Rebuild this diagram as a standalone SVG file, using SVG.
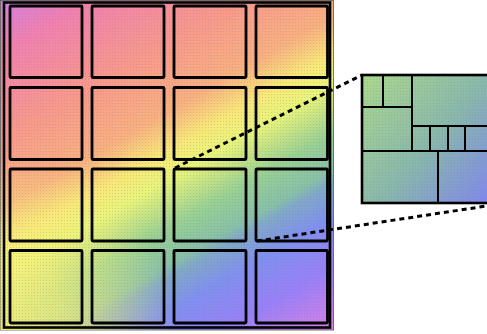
<svg xmlns="http://www.w3.org/2000/svg" width="487" height="334" viewBox="0 0 487 334">
  <defs>
    <linearGradient id="g" gradientUnits="userSpaceOnUse" x1="0" y1="0" x2="226" y2="391">
      <stop offset="0" stop-color="#d480e4"/>
      <stop offset="0.10" stop-color="#f080b0"/>
      <stop offset="0.265" stop-color="#f8988c"/>
      <stop offset="0.40" stop-color="#f8b080"/>
      <stop offset="0.475" stop-color="#f8e878"/>
      <stop offset="0.53" stop-color="#e8f47a"/>
      <stop offset="0.57" stop-color="#c8e484"/>
      <stop offset="0.625" stop-color="#98d094"/>
      <stop offset="0.695" stop-color="#88c0a8"/>
      <stop offset="0.72" stop-color="#80a8c8"/>
      <stop offset="0.785" stop-color="#8090f0"/>
      <stop offset="0.88" stop-color="#9880f8"/>
      <stop offset="1" stop-color="#d880e8"/>
    </linearGradient>
    <radialGradient id="y" gradientUnits="userSpaceOnUse" cx="0" cy="334" r="175">
      <stop offset="0" stop-color="#f8f078" stop-opacity="0.9"/>
      <stop offset="0.4" stop-color="#f8f078" stop-opacity="0.7"/>
      <stop offset="1" stop-color="#f8f078" stop-opacity="0"/>
    </radialGradient>
    <linearGradient id="gi" gradientUnits="userSpaceOnUse" x1="362" y1="75" x2="506" y2="203">
      <stop offset="0" stop-color="#acd88c"/>
      <stop offset="0.5" stop-color="#88b8ac"/>
      <stop offset="1" stop-color="#7f7ff8"/>
    </linearGradient>
    <pattern id="dots" width="3" height="3" patternUnits="userSpaceOnUse">
      <circle cx="1.5" cy="1.5" r="0.55" fill="#7a7a7a" fill-opacity="0.3"/>
    </pattern>
  </defs>
  <style>
    .cell { fill: none; stroke: #000; stroke-width: 2.8; }
    .frame { fill: none; stroke: #000; stroke-width: 2.6; }
    .div { stroke: #000; stroke-width: 2; fill: none; }
    .dash { stroke: #000; stroke-width: 3; stroke-dasharray: 5 4; fill: none; }
  </style>

  <g id="canvas">
    <rect x="0.5" y="0.5" width="333" height="329.5" fill="url(#g)" stroke="#555" stroke-width="0.8"/>
    <rect x="0.5" y="0.5" width="333" height="329.5" fill="url(#y)"/>
    <rect x="0.5" y="0.5" width="333" height="329.5" fill="url(#dots)"/>
    <rect class="frame" x="4" y="2.5" width="326" height="325"/>
  </g>

  <g id="cell-r1c1"><rect class="cell" x="10" y="6" width="72" height="71.5" rx="1"/></g>
  <g id="cell-r1c2"><rect class="cell" x="92" y="6" width="72" height="71.5" rx="1"/></g>
  <g id="cell-r1c3"><rect class="cell" x="174" y="6" width="72" height="71.5" rx="1"/></g>
  <g id="cell-r1c4"><rect class="cell" x="256" y="6" width="71.5" height="71.5" rx="1"/></g>

  <g id="cell-r2c1"><rect class="cell" x="10" y="87.5" width="72" height="72" rx="1"/></g>
  <g id="cell-r2c2"><rect class="cell" x="92" y="87.5" width="72" height="72" rx="1"/></g>
  <g id="cell-r2c3"><rect class="cell" x="174" y="87.5" width="72" height="72" rx="1"/></g>
  <g id="cell-r2c4"><rect class="cell" x="256" y="87.5" width="71.5" height="72" rx="1"/></g>

  <g id="cell-r3c1"><rect class="cell" x="10" y="169" width="72" height="72" rx="1"/></g>
  <g id="cell-r3c2"><rect class="cell" x="92" y="169" width="72" height="72" rx="1"/></g>
  <g id="cell-r3c3"><rect class="cell" x="174" y="169" width="72" height="72" rx="1"/></g>
  <g id="cell-r3c4"><rect class="cell" x="256" y="169" width="71.5" height="72" rx="1"/></g>

  <g id="cell-r4c1"><rect class="cell" x="10" y="250.5" width="72" height="72.5" rx="1"/></g>
  <g id="cell-r4c2"><rect class="cell" x="92" y="250.5" width="72" height="72.5" rx="1"/></g>
  <g id="cell-r4c3"><rect class="cell" x="174" y="250.5" width="72" height="72.5" rx="1"/></g>
  <g id="cell-r4c4"><rect class="cell" x="256" y="250.5" width="71.5" height="72.5" rx="1"/></g>

  <g id="inset">
    <rect x="362" y="75" width="144" height="128" fill="url(#gi)"/>
    <rect x="362" y="75" width="144" height="128" fill="url(#dots)"/>
    <path class="div" d="M383 75V107 M362 107H412 M412 75V151 M412 126H506 M430 126V151 M448 126V151 M465 126V151 M362 151H506 M438 151V203"/>
    <rect x="362" y="75" width="144" height="128" fill="none" stroke="#000" stroke-width="2.6"/>
  </g>

  <g id="connectors">
    <line class="dash" x1="175" y1="168" x2="362" y2="75"/>
    <line class="dash" x1="257" y1="241" x2="506" y2="203"/>
  </g>
</svg>
